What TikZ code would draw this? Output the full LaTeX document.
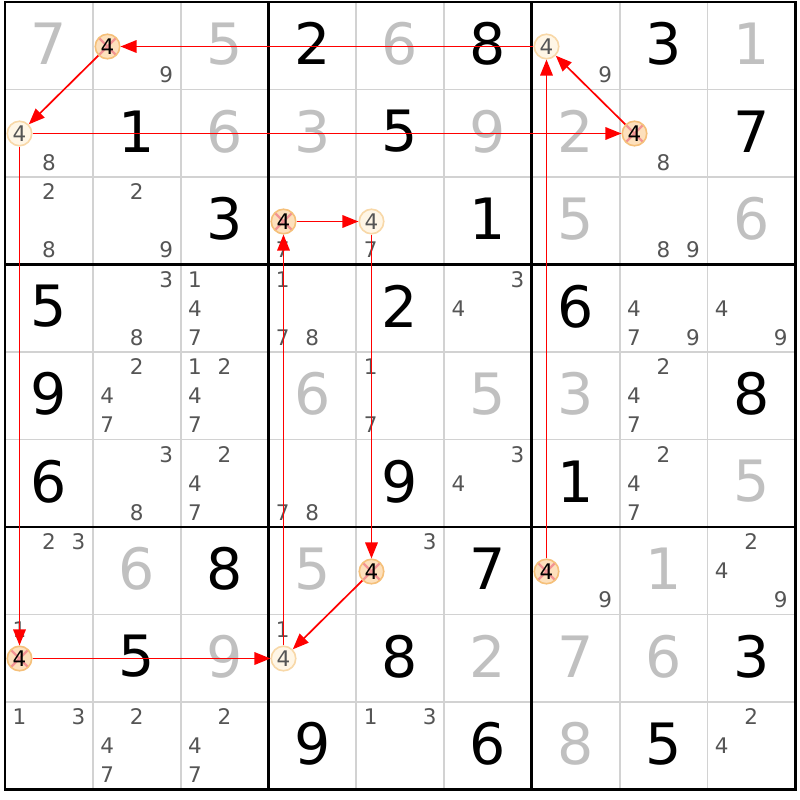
\documentclass[tikz,border=0pt]{standalone}
\usepackage{fontspec}
\setmainfont{DejaVu Sans}
\usetikzlibrary{arrows.meta}
\definecolor{solvedgray}{HTML}{C0C0C0}
\definecolor{candgray}{HTML}{555555}
\definecolor{gridgray}{HTML}{D2D2D2}
\definecolor{hlfill}{HTML}{FFF6E6}
\definecolor{hlline}{HTML}{F8D8A8}
\definecolor{xfill}{HTML}{FDE0BC}
\definecolor{xline}{HTML}{F5C07A}
\definecolor{xmark}{HTML}{F29494}
\tikzset{
  givendig/.style={inner sep=0pt, text=black, font=\fontsize{57}{57}\selectfont},
  solveddig/.style={inner sep=0pt, text=solvedgray, font=\fontsize{57}{57}\selectfont},
  canddig/.style={inner sep=0pt, text=candgray, font=\fontsize{21.5}{21.5}\selectfont},
  hlo/.style={circle, minimum size=24.5pt, inner sep=0pt, fill=hlfill, draw=hlline, line width=1.6pt,
    text=candgray, font=\fontsize{21.5}{21.5}\selectfont},
  hlx/.style={circle, minimum size=24.5pt, inner sep=0pt, fill=xfill, draw=xline, line width=1.6pt,
    text=black, font=\fontsize{21.5}{21.5}\selectfont,
    path picture={\draw[xmark, line width=2.4pt]
      (path picture bounding box.north west) -- (path picture bounding box.south east)
      (path picture bounding box.north east) -- (path picture bounding box.south west);}},
  link/.style={draw=red, line width=1.7pt, -{Triangle[length=16pt,width=12.5pt]}},
  thinline/.style={draw=gridgray, line width=1.8pt},
  thickline/.style={draw=black, line width=2.8pt}
}
\begin{document}
\begin{tikzpicture}[x=1pt,y=-1pt]
\useasboundingbox (0,0) rectangle (800,800);
\fill[white] (0,0) rectangle (800,800);
% grid
\foreach \i in {1,2,4,5,7,8} {
  \draw[thinline] (5+\i*87.8,2) -- (5+\i*87.8,789.5);
  \draw[thinline] (5,2+\i*87.5) -- (795.2,2+\i*87.5);
}
\foreach \i in {3,6} {
  \draw[thickline] (5+\i*87.8,2) -- (5+\i*87.8,789.5);
  \draw[thickline] (5,2+\i*87.5) -- (795.2,2+\i*87.5);
}
\draw[thickline] (5,2) rectangle (795.2,789.5);
% given digits
\foreach \r/\c/\d in {1/4/2,1/6/8,1/8/3,2/2/1,2/5/5,2/9/7,3/3/3,3/6/1,4/1/5,4/5/2,4/7/6,
  5/1/9,5/9/8,6/1/6,6/5/9,6/7/1,7/3/8,7/6/7,8/2/5,8/5/8,8/9/3,9/4/9,9/6/6,9/8/5} {
  \node[givendig] (g-\r-\c) at ({5+(\c-0.5)*87.8},{2+(\r-0.5)*87.5-2}) {\d};
}
% solved digits
\foreach \r/\c/\d in {1/1/7,1/3/5,1/5/6,1/9/1,2/3/6,2/4/3,2/6/9,2/7/2,3/7/5,3/9/6,
  5/4/6,5/6/5,5/7/3,6/9/5,7/2/6,7/4/5,7/8/1,8/3/9,8/6/2,8/7/7,8/8/6,9/7/8} {
  \node[solveddig] (s-\r-\c) at ({5+(\c-0.5)*87.8},{2+(\r-0.5)*87.5-2}) {\d};
}
% candidates
\foreach \r/\c/\d in {1/2/9,1/7/9,2/1/8,2/8/8,3/1/2,3/1/8,3/2/2,3/2/9,3/4/7,3/5/7,3/8/8,3/8/9,
  4/2/3,4/2/8,4/3/1,4/3/4,4/3/7,4/4/1,4/4/7,4/4/8,4/6/3,4/6/4,4/8/4,4/8/7,4/8/9,4/9/4,4/9/9,
  5/2/2,5/2/4,5/2/7,5/3/1,5/3/2,5/3/4,5/3/7,5/5/1,5/5/7,5/8/2,5/8/4,5/8/7,
  6/2/3,6/2/8,6/3/2,6/3/4,6/3/7,6/4/7,6/4/8,6/6/3,6/6/4,6/8/2,6/8/4,6/8/7,
  7/1/2,7/1/3,7/5/3,7/7/9,7/9/2,7/9/4,7/9/9,8/1/1,8/4/1,
  9/1/1,9/1/3,9/2/2,9/2/4,9/2/7,9/3/2,9/3/4,9/3/7,9/5/1,9/5/3,9/9/2,9/9/4} {
  \pgfmathsetmacro\px{5+(\c-0.5)*87.8+(mod(\d-1,3)-1)*29.5}
  \pgfmathsetmacro\py{2+(\r-0.5)*87.5+(floor((\d-1)/3)-1)*29}
  \node[canddig] (k-\r-\c-\d) at (\px,\py) {\d};
}
% highlighted candidates 4
\foreach \r/\c/\t in {1/2/x,1/7/o,2/1/o,2/8/x,3/4/x,3/5/o,7/5/x,7/7/x,8/1/x,8/4/o} {
  \pgfmathsetmacro\px{round(5+(\c-0.5)*87.8-29.5)+0.5}
  \pgfmathsetmacro\py{round(2+(\r-0.5)*87.5)+0.5}
  \node[hl\t] (h\r\c) at (\px,\py) {4};
}
% links
\draw[link] (h17) -- (h12);
\draw[link] (h12) -- (h21);
\draw[link] (h21) -- (h28);
\draw[link] (h28) -- (h17);
\draw[link] (h21) -- (h81);
\draw[link] (h81) -- (h84);
\draw[link] (h75) -- (h84);
\draw[link] (h35) -- (h75);
\draw[link] (h34) -- (h35);
\draw[link] (h84) -- (h34);
\draw[link] (h77) -- (h17);
\end{tikzpicture}
\end{document}
